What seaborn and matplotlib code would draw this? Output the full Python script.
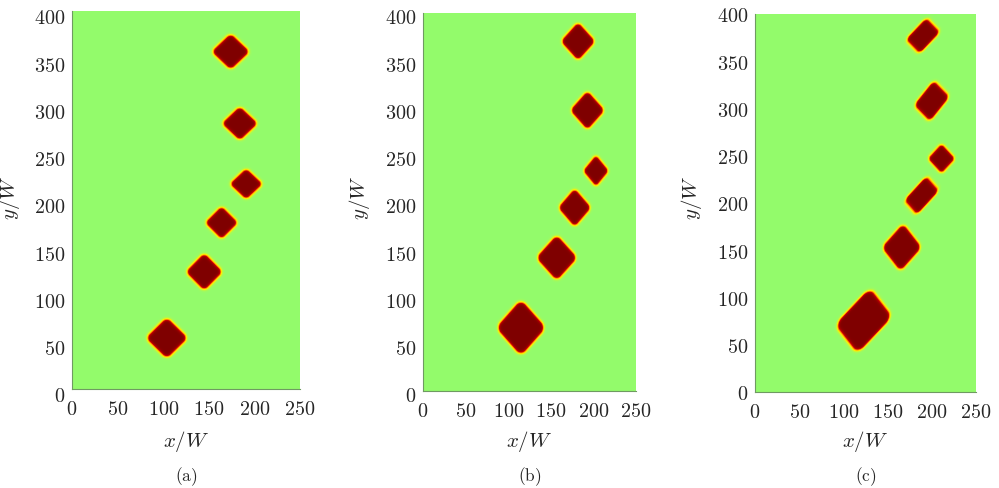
import numpy as np
import matplotlib
matplotlib.use("Agg")
import matplotlib.pyplot as plt
import matplotlib.transforms as mtrans
import seaborn as sns
from matplotlib.colors import LinearSegmentedColormap

# domain size (lattice units)
NX, NY = 250, 400

# blob centres / half extents / shear, bottom to top, per panel
cx_a = [104, 145, 164, 191, 184, 174]
cy_a = [54, 124, 176, 217, 281, 357]
rx_a = [20.5, 18, 16, 16, 17.5, 18.6]
ry_a = [19.4, 17.6, 15.4, 14.5, 16, 17]
kx_a = [0, 0, 0, 0, 0, 0]
ky_a = [0, 0, 0, 0, 0, 0]

cx_b = [115, 157, 178, 203, 193, 182]
cy_b = [67, 141, 194, 233, 297, 370]
rx_b = [26, 21.5, 17.2, 13.3, 18, 18]
ry_b = [26.5, 21.5, 18, 14.6, 18.3, 18]
kx_b = [0, 0, 0, 0, 0, 0]
ky_b = [0, 0, 0, 0, 0, 0]

cx_c = [123, 166, 188.5, 211, 200, 190]
cy_c = [75.5, 153, 208, 247, 308, 377]
rx_c = [28, 20, 16.2, 13.6, 17.4, 16.4]
ry_c = [30, 22.4, 16.8, 13.8, 18.7, 16]
kx_c = [0.2, 0.06, 0.26, 0.0, 0.1, 0.2]
ky_c = [0.13, 0.0, 0.26, 0.0, 0.22, 0.2]

xticks = [0, 50, 100, 150, 200, 250]
yticks = [0, 50, 100, 150, 200, 250, 300, 350, 400]
captions = ["(a)", "(b)", "(c)"]


def phase_field(cx, cy, rx, ry, kx, ky, ncol, nrow, rc=0.3, w=1.8):
    # rounded diamonds (square turned 45 deg) with a tanh interface,
    # sampled on an ncol x nrow grid covering the NX x NY domain
    xs = (np.arange(ncol) + 0.5) * NX / ncol
    ys = (np.arange(nrow) + 0.5) * NY / nrow
    X, Y = np.meshgrid(xs, ys)
    phi = np.zeros_like(X)
    h = (1 - rc) / np.sqrt(2)
    for x0, y0, a0, b0, k1, k2 in zip(cx, cy, rx, ry, kx, ky):
        dx = X - x0
        dy = Y - y0
        a = (dx - k1 * dy) / a0
        b = (dy - k2 * dx) / b0
        qu = np.abs(a + b) / np.sqrt(2) - h
        qv = np.abs(a - b) / np.sqrt(2) - h
        outside = np.hypot(np.maximum(qu, 0), np.maximum(qv, 0))
        inside = np.minimum(np.maximum(qu, qv), 0)
        sdf = (outside + inside - rc) * 0.5 * (a0 + b0)
        phi = np.maximum(phi, 0.5 * (1 - np.tanh(sdf / w)))
    return phi


sns.set_style("white")
plt.rcParams["mathtext.fontset"] = "cm"
plt.rcParams["font.family"] = ["DejaVu Serif"]

cmap = LinearSegmentedColormap.from_list(
    "phase", [(0.0, "#93fb6b"), (0.22, "#fff000"), (0.45, "#ff8a00"),
              (0.7, "#c80000"), (1.0, "#7f0000")])

fig = plt.figure(figsize=(9.99, 4.89), dpi=100)
# axes boxes in pixels: left, top, right, bottom
boxes = [(72, 12, 300, 390), (423, 14, 636, 392), (755, 15, 976, 393)]
ylab_shift = [5, 3, 0]  # y tick labels sit a bit low in the original
blobs = [(cx_a, cy_a, rx_a, ry_a, kx_a, ky_a),
         (cx_b, cy_b, rx_b, ry_b, kx_b, ky_b),
         (cx_c, cy_c, rx_c, ry_c, kx_c, ky_c)]

W, H = 999.0, 489.0
txt = "#262626"
for (l, t, r, b), blob, cap, sh in zip(boxes, blobs, captions, ylab_shift):
    ncol, nrow = r - l, b - t  # one heatmap cell per output pixel
    phi = phase_field(*blob, ncol, nrow)
    ax = fig.add_axes([l / W, 1 - b / H, (r - l) / W, (b - t) / H])
    sns.heatmap(phi, ax=ax, cmap=cmap, vmin=0, vmax=1, cbar=False,
                xticklabels=False, yticklabels=False, rasterized=True)
    ax.set_xlim(0, ncol)
    ax.set_ylim(0, nrow)
    ax.set_xticks(np.array(xticks) * ncol / NX)
    ax.set_xticklabels(["$%d$" % v for v in xticks], fontsize=14.5, color=txt)
    ax.set_yticks(np.array(yticks) * nrow / NY)
    ax.set_yticklabels(["$%d$" % v for v in yticks], fontsize=14.5, color=txt,
                       rotation=0)
    ax.tick_params(axis="x", length=0, pad=7)
    ax.tick_params(axis="y", length=0, pad=5)
    off = mtrans.ScaledTranslation(0, -sh / 100.0, fig.dpi_scale_trans)
    for lab in ax.get_yticklabels():
        lab.set_transform(lab.get_transform() + off)
    for s in ["top", "right"]:
        ax.spines[s].set_visible(False)
    for s in ["left", "bottom"]:
        ax.spines[s].set_visible(True)
        ax.spines[s].set_color("#6f9a62")
        ax.spines[s].set_linewidth(0.8)
    xc = 0.5 * (l + r)
    fig.text(xc / W, 1 - 442 / H, "$x/W$", fontsize=15, color=txt,
             ha="center", va="center")
    fig.text((l - 63) / W, 1 - 198 / H, "$y/W$", fontsize=15, color=txt,
             ha="center", va="center", rotation=90)
    fig.text(xc / W, 1 - 477 / H, r"$\mathrm{%s}$" % cap, fontsize=12.5,
             color=txt, ha="center", va="center")

fig.savefig("out.png", dpi=100)
